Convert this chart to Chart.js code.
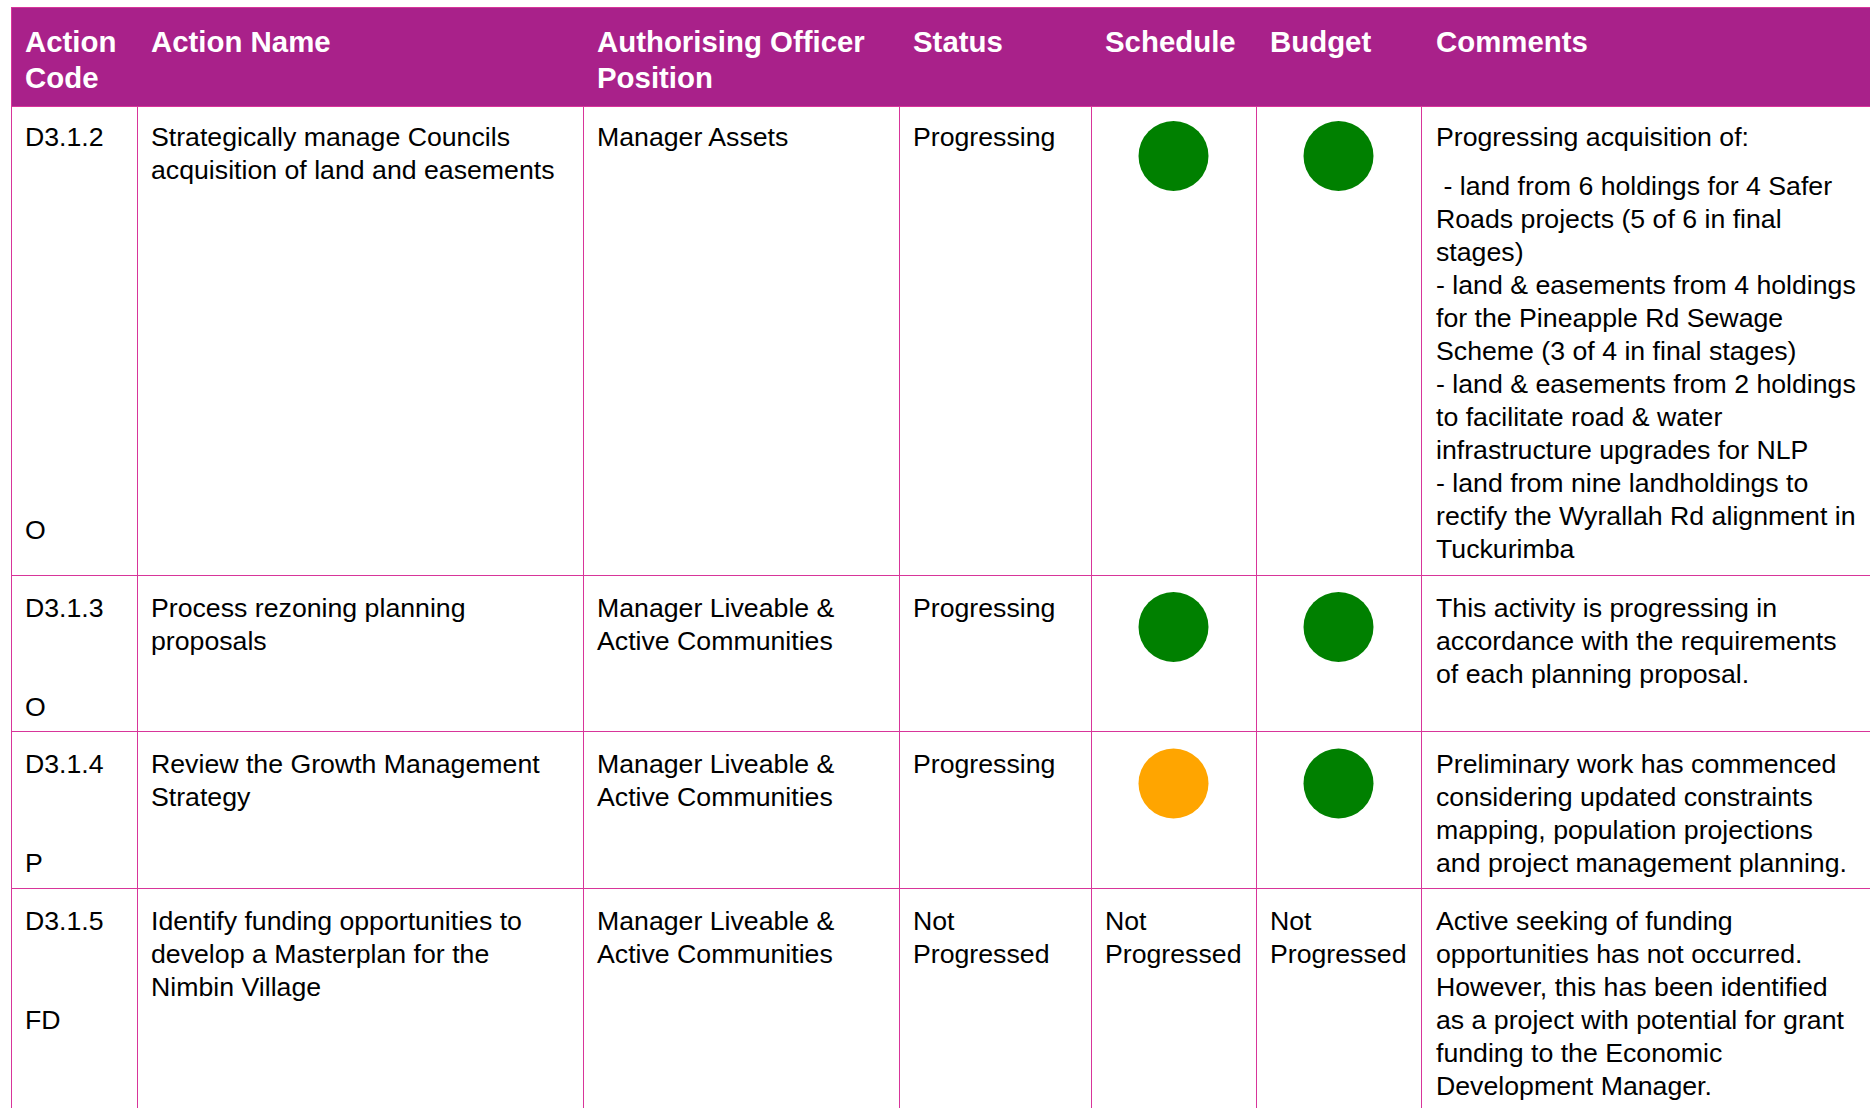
<!DOCTYPE html>
<html>
<head>
<meta charset="utf-8">
<script src="https://cdn.jsdelivr.net/npm/chart.js@4.4.1/dist/chart.umd.min.js"></script>
<style>
  html, body { margin: 0; padding: 0; background: #ffffff; }
  body { width: 1870px; height: 1108px; overflow: hidden; position: relative;
         font-family: "Liberation Sans", Arial, sans-serif; }
  .cell { position: absolute; box-sizing: border-box; border-right: 1px solid #D8359A;
          border-bottom: 1px solid #D8359A; white-space: nowrap; color: #000;
          font-size: 26.7px; line-height: 33px; }
  .hdr { background: #A9218A; color: #fff; font-weight: bold; font-size: 29.4px; line-height: 36px;
         padding-top: 16px; }
  .para { margin-bottom: 16px; }
  .dotbox { position: absolute; }
</style>
</head>
<body>
<script>
// ---------- DATA ----------
const headers = [["Action", "Code"], ["Action Name"], ["Authorising Officer", "Position"],
                 ["Status"], ["Schedule"], ["Budget"], ["Comments"]];
const actionCodes = ["D3.1.2", "D3.1.3", "D3.1.4", "D3.1.5"];
const actionTypes = ["O", "O", "P", "FD"];
const actionNames = [
  ["Strategically manage Councils", "acquisition of land and easements"],
  ["Process rezoning planning", "proposals"],
  ["Review the Growth Management", "Strategy"],
  ["Identify funding opportunities to", "develop a Masterplan for the", "Nimbin Village"]
];
const officers = [
  ["Manager Assets"],
  ["Manager Liveable &", "Active Communities"],
  ["Manager Liveable &", "Active Communities"],
  ["Manager Liveable &", "Active Communities"]
];
const statuses = [["Progressing"], ["Progressing"], ["Progressing"], ["Not", "Progressed"]];
const scheduleRatings = ["On Track", "On Track", "Monitor", "Not Progressed"];
const budgetRatings = ["On Track", "On Track", "On Track", "Not Progressed"];
const commentIntro = ["Progressing acquisition of:", null, null, null];
const comments = [
  ["\u00a0- land from 6 holdings for 4 Safer", "Roads projects (5 of 6 in final", "stages)",
   "- land & easements from 4 holdings", "for the Pineapple Rd Sewage", "Scheme (3 of 4 in final stages)",
   "- land & easements from 2 holdings", "to facilitate road & water", "infrastructure upgrades for NLP",
   "- land from nine landholdings to", "rectify the Wyrallah Rd alignment in", "Tuckurimba"],
  ["This activity is progressing in", "accordance with the requirements", "of each planning proposal."],
  ["Preliminary work has commenced", "considering updated constraints", "mapping, population projections",
   "and project management planning."],
  ["Active seeking of funding", "opportunities has not occurred.", "However, this has been identified",
   "as a project with potential for grant", "funding to the Economic", "Development Manager."]
];
// blank lines between action code and its type letter
const codeGapLines = [11, 2, 2, 2];

// ---------- LAYOUT / STYLE ----------
const ratingColors = { "On Track": "#008000", "Monitor": "#FFA500" };
const colEdges = [11, 137, 583, 899, 1091, 1256, 1421, 1890];
const rowEdges = [7, 106, 575, 731, 888, 1160];
const padLeft = [13, 14, 14, 14, 14, 14, 15];
const rowPadTop = [15, 16.5, 16.5, 16.5];
const typeNudge = [-3, 0, 0, 0];
const dotCenterOffset = [50, 52, 52.5, 52];
const dotRadius = 35;

const esc = s => s.replace(/&/g, "&amp;").replace(/</g, "&lt;");
const lines = arr => arr.map(esc).join("<br>");

function makeCell(c, r, html, extraClass) {
  const d = document.createElement("div");
  d.className = "cell" + (extraClass ? " " + extraClass : "");
  d.style.left = colEdges[c] + "px";
  d.style.top = rowEdges[r] + "px";
  d.style.width = (colEdges[c + 1] - colEdges[c] + 1) + "px";
  d.style.height = (rowEdges[r + 1] - rowEdges[r] + 1) + "px";
  d.style.paddingLeft = padLeft[c] + "px";
  if (c === 0) d.style.borderLeft = "1px solid #D8359A";
  if (r === 0) d.style.borderTop = "1px solid #D8359A";
  if (r > 0) d.style.paddingTop = rowPadTop[r - 1] + "px";
  d.innerHTML = html;
  document.body.appendChild(d);
  return d;
}

headers.forEach((h, c) => makeCell(c, 0, lines(h), "hdr"));

function drawDot(c, i, rating) {
  const w = colEdges[c + 1] - colEdges[c];
  const h = 2 * dotCenterOffset[i];
  const box = document.createElement("div");
  box.className = "dotbox";
  box.style.left = colEdges[c] + "px";
  box.style.top = rowEdges[i + 1] + "px";
  box.style.width = w + "px";
  box.style.height = h + "px";
  const cv = document.createElement("canvas");
  cv.width = w; cv.height = h;
  cv.style.width = w + "px"; cv.style.height = h + "px";
  box.appendChild(cv);
  document.body.appendChild(box);
  new Chart(cv, {
    type: "scatter",
    data: { datasets: [{ data: [{ x: 0, y: 0 }], pointRadius: dotRadius, pointHoverRadius: dotRadius,
      pointBackgroundColor: ratingColors[rating], pointBorderWidth: 0, borderWidth: 0, clip: false }] },
    options: {
      responsive: false, maintainAspectRatio: false, animation: false, events: [],
      devicePixelRatio: 1,
      layout: { padding: 0 },
      plugins: { legend: { display: false }, tooltip: { enabled: false } },
      scales: {
        x: { display: false, min: -1, max: 1 },
        y: { display: false, min: -1, max: 1 }
      }
    }
  });
}

actionCodes.forEach((code, i) => {
  const r = i + 1;
  makeCell(0, r, esc(code) + "<br>".repeat(codeGapLines[i] + 1) +
    '<div style="margin-top:' + typeNudge[i] + 'px">' + esc(actionTypes[i]) + "</div>");
  makeCell(1, r, lines(actionNames[i]));
  makeCell(2, r, lines(officers[i]));
  makeCell(3, r, lines(statuses[i]));
  [[4, scheduleRatings[i]], [5, budgetRatings[i]]].forEach(([c, rating]) => {
    if (ratingColors[rating]) {
      makeCell(c, r, "");
      drawDot(c, i, rating);
    } else {
      makeCell(c, r, lines(rating.split(" ")));
    }
  });
  let html = "";
  if (commentIntro[i]) html += '<div class="para">' + esc(commentIntro[i]) + "</div>";
  html += "<div>" + lines(comments[i]) + "</div>";
  makeCell(6, r, html);
});
</script>
</body>
</html>
